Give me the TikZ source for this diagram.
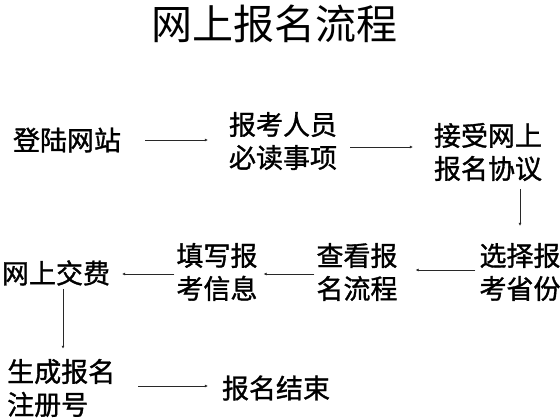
\documentclass[tikz,border=0pt]{standalone}
\usepackage{fontspec}
\setmainfont{Noto Sans CJK SC}
\newfontfamily\boxfont[FakeBold=1.2]{Noto Sans CJK SC}
\usetikzlibrary{arrows.meta,positioning}
\definecolor{FlowGray}{RGB}{40,40,40}

\begin{document}
\begin{tikzpicture}[x=1pt,y=-1pt,>={Latex[length=3pt,width=3pt]},
    box/.style={align=center,inner sep=0pt,font=\boxfont\fontsize{27}{33}\selectfont},
    flow/.style={->,FlowGray,line width=0.7pt}]
  \useasboundingbox (0,0) rectangle (560,419);
  \node[font=\fontsize{41}{41}\selectfont] (title) at (274,24) {网上报名流程};
  % first row
  \node[box] (login) at (67,140) {登陆网站};
  \node[box] (notice) at (283,141) {报考人员\\必读事项};
  \node[box] (agree) at (488,152) {接受网上\\报名协议};
  % second row, right to left
  \node[box] (prov) at (520,272) {选择报\\考省份};
  \node[box] (view) at (357,272) {查看报\\名流程};
  \node[box] (fill) at (217,272) {填写报\\考信息};
  \node[box] (pay) at (56,273) {网上交费};
  % last row
  \node[box,align=left,anchor=west] (regno) at (7,388) {生成报名\\注册号};
  \node[box] (done) at (276,388) {报名结束};

  \draw[flow,shorten <=24pt,shorten >=21pt] (login.east) -- (login.east -| notice.west);
  \draw[flow,shorten <=13pt,shorten >=21pt] ([yshift=-6pt]notice.east) -- ([yshift=-6pt]notice.east -| agree.west);
  \draw[flow,shorten <=8pt,shorten >=17pt] (prov.north |- agree.south) -- (prov.north);
  \draw[flow,shorten <=4pt,shorten >=18pt] ([yshift=2pt]prov.west) -- ([yshift=2pt]prov.west -| view.east);
  \draw[flow,shorten <=2pt,shorten >=6pt] ([yshift=-2pt]view.west) -- ([yshift=-2pt]view.west -| fill.east);
  \draw[flow,shorten <=2pt,shorten >=12pt] ([yshift=-2pt]fill.west) -- ([yshift=-2pt]fill.west -| pay.east);
  \draw[flow,shorten <=3pt,shorten >=10pt] ([xshift=7pt]pay.south) -- ([xshift=7pt]pay.south |- regno.north);
  \draw[flow,shorten <=23pt,shorten >=14pt] ([yshift=2pt]regno.east) -- ([yshift=2pt]regno.east -| done.west);
\end{tikzpicture}
\end{document}
